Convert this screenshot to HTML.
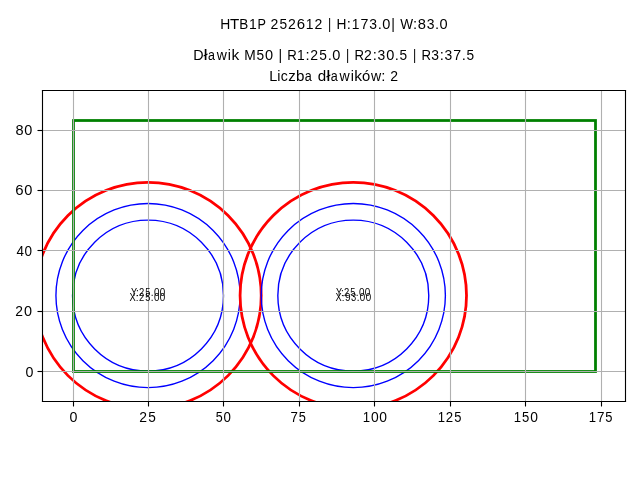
<!DOCTYPE html>
<html lang="pl">
<head>
<meta charset="utf-8">
<title>HTB1P 252612</title>
<style>
html,body{margin:0;padding:0;background:#fff;}
body{width:640px;height:480px;overflow:hidden;}
svg{display:block;will-change:transform;}
text{font-family:"Liberation Sans",sans-serif;fill:#000;}
.t10{font-size:14.7px;}
.t7{font-size:11.4px;}
.grid line{stroke:#b0b0b0;stroke-width:1.11;}
.tick line{stroke:#000;stroke-width:1.11;}
.spine line{stroke:#000;stroke-width:1.11;stroke-linecap:square;}
.blue{fill:none;stroke:#0000ff;stroke-width:1.39;}
.red{fill:none;stroke:#ff0000;stroke-width:2.78;}
.green{fill:none;stroke:#008000;stroke-width:2.78;stroke-linejoin:miter;}
</style>
</head>
<body>
<svg width="640" height="480" viewBox="0 0 640 480">
<rect x="0" y="0" width="640" height="480" fill="#ffffff"/>
<defs><clipPath id="ax"><rect x="42.35" y="90.28" width="582.65" height="310.95"/></clipPath></defs>
<g clip-path="url(#ax)">
<circle class="blue" cx="148.01" cy="295.57" r="75.47"/>
<circle class="blue" cx="148.01" cy="295.57" r="92.08"/>
<circle class="red" cx="148.01" cy="295.57" r="113.21"/>
<circle class="blue" cx="353.3" cy="295.57" r="75.47"/>
<circle class="blue" cx="353.3" cy="295.57" r="92.08"/>
<circle class="red" cx="353.3" cy="295.57" r="113.21"/>
<rect class="green" x="73.5" y="120.5" width="522" height="251"/>
<g class="grid">
<line x1="73.5" y1="90.28" x2="73.5" y2="401.23"/>
<line x1="148.5" y1="90.28" x2="148.5" y2="401.23"/>
<line x1="223.5" y1="90.28" x2="223.5" y2="401.23"/>
<line x1="299.5" y1="90.28" x2="299.5" y2="401.23"/>
<line x1="374.5" y1="90.28" x2="374.5" y2="401.23"/>
<line x1="450.5" y1="90.28" x2="450.5" y2="401.23"/>
<line x1="525.5" y1="90.28" x2="525.5" y2="401.23"/>
<line x1="601.5" y1="90.28" x2="601.5" y2="401.23"/>
<line x1="42.35" y1="371.5" x2="625" y2="371.5"/>
<line x1="42.35" y1="311.5" x2="625" y2="311.5"/>
<line x1="42.35" y1="250.5" x2="625" y2="250.5"/>
<line x1="42.35" y1="190.5" x2="625" y2="190.5"/>
<line x1="42.35" y1="130.5" x2="625" y2="130.5"/>
</g>
</g>
<g class="spine">
<line x1="42.5" y1="90.5" x2="42.5" y2="401.5"/>
<line x1="625.5" y1="90.5" x2="625.5" y2="401.5"/>
<line x1="42.5" y1="90.5" x2="625.5" y2="90.5"/>
<line x1="42.5" y1="401.5" x2="625.5" y2="401.5"/>
</g>
<g class="tick">
<line x1="73.5" y1="401.23" x2="73.5" y2="406.5"/>
<line x1="148.5" y1="401.23" x2="148.5" y2="406.5"/>
<line x1="223.5" y1="401.23" x2="223.5" y2="406.5"/>
<line x1="299.5" y1="401.23" x2="299.5" y2="406.5"/>
<line x1="374.5" y1="401.23" x2="374.5" y2="406.5"/>
<line x1="450.5" y1="401.23" x2="450.5" y2="406.5"/>
<line x1="525.5" y1="401.23" x2="525.5" y2="406.5"/>
<line x1="601.5" y1="401.23" x2="601.5" y2="406.5"/>
<line x1="37.49" y1="371.5" x2="42.35" y2="371.5"/>
<line x1="37.49" y1="311.5" x2="42.35" y2="311.5"/>
<line x1="37.49" y1="250.5" x2="42.35" y2="250.5"/>
<line x1="37.49" y1="190.5" x2="42.35" y2="190.5"/>
<line x1="37.49" y1="130.5" x2="42.35" y2="130.5"/>
</g>
<text class="t10" y="422"><tspan x="69.43" textLength="7.92" lengthAdjust="spacingAndGlyphs">0</tspan></text>
<text class="t10" y="422"><tspan x="139.3" textLength="7.76" lengthAdjust="spacingAndGlyphs">2</tspan><tspan x="148.25" textLength="7.59" lengthAdjust="spacingAndGlyphs">5</tspan></text>
<text class="t10" y="422"><tspan x="215.8" textLength="6.95" lengthAdjust="spacingAndGlyphs">5</tspan><tspan x="223.61" textLength="7.39" lengthAdjust="spacingAndGlyphs">0</tspan></text>
<text class="t10" y="422"><tspan x="290.4" textLength="7.38" lengthAdjust="spacingAndGlyphs">7</tspan><tspan x="298.7" textLength="7.11" lengthAdjust="spacingAndGlyphs">5</tspan></text>
<text class="t10" y="422"><tspan x="362.71" textLength="7.33" lengthAdjust="spacingAndGlyphs">1</tspan><tspan x="370.89" textLength="7.71" lengthAdjust="spacingAndGlyphs">0</tspan><tspan x="379.23" textLength="7.71" lengthAdjust="spacingAndGlyphs">0</tspan></text>
<text class="t10" y="422"><tspan x="437.72" textLength="7.28" lengthAdjust="spacingAndGlyphs">1</tspan><tspan x="445.84" textLength="7.36" lengthAdjust="spacingAndGlyphs">2</tspan><tspan x="454.33" textLength="7.2" lengthAdjust="spacingAndGlyphs">5</tspan></text>
<text class="t10" y="422"><tspan x="513.71" textLength="7.33" lengthAdjust="spacingAndGlyphs">1</tspan><tspan x="522.09" textLength="7.25" lengthAdjust="spacingAndGlyphs">5</tspan><tspan x="530.23" textLength="7.71" lengthAdjust="spacingAndGlyphs">0</tspan></text>
<text class="t10" y="422"><tspan x="588.72" textLength="7.28" lengthAdjust="spacingAndGlyphs">1</tspan><tspan x="596.92" textLength="7.48" lengthAdjust="spacingAndGlyphs">7</tspan><tspan x="605.33" textLength="7.2" lengthAdjust="spacingAndGlyphs">5</tspan></text>
<text class="t10" y="377"><tspan x="25.43" textLength="7.92" lengthAdjust="spacingAndGlyphs">0</tspan></text>
<text class="t10" y="316"><tspan x="15.31" textLength="7.72" lengthAdjust="spacingAndGlyphs">2</tspan><tspan x="24.01" textLength="8.03" lengthAdjust="spacingAndGlyphs">0</tspan></text>
<text class="t10" y="256"><tspan x="16.4" textLength="7.46" lengthAdjust="spacingAndGlyphs">4</tspan><tspan x="24.49" textLength="7.52" lengthAdjust="spacingAndGlyphs">0</tspan></text>
<text class="t10" y="195"><tspan x="15.25" textLength="8.34" lengthAdjust="spacingAndGlyphs">6</tspan><tspan x="24.13" textLength="8.12" lengthAdjust="spacingAndGlyphs">0</tspan></text>
<text class="t10" y="135"><tspan x="15.48" textLength="8.1" lengthAdjust="spacingAndGlyphs">8</tspan><tspan x="24.19" textLength="8.05" lengthAdjust="spacingAndGlyphs">0</tspan></text>
<text class="t7" y="296"><tspan x="131.07" textLength="6.11" lengthAdjust="spacingAndGlyphs">Y</tspan><tspan x="135.9" textLength="2.79" lengthAdjust="spacingAndGlyphs">:</tspan><tspan x="139.07" textLength="5.26" lengthAdjust="spacingAndGlyphs">2</tspan><tspan x="145.14" textLength="5.15" lengthAdjust="spacingAndGlyphs">5</tspan><tspan x="150.78" textLength="2.79" lengthAdjust="spacingAndGlyphs">.</tspan><tspan x="153.88" textLength="5.48" lengthAdjust="spacingAndGlyphs">0</tspan><tspan x="159.81" textLength="5.48" lengthAdjust="spacingAndGlyphs">0</tspan></text>
<text class="t7" y="301"><tspan x="129.38" textLength="6.22" lengthAdjust="spacingAndGlyphs">X</tspan><tspan x="135.86" textLength="2.8" lengthAdjust="spacingAndGlyphs">:</tspan><tspan x="139.04" textLength="5.27" lengthAdjust="spacingAndGlyphs">2</tspan><tspan x="145.13" textLength="5.16" lengthAdjust="spacingAndGlyphs">5</tspan><tspan x="150.78" textLength="2.8" lengthAdjust="spacingAndGlyphs">.</tspan><tspan x="153.88" textLength="5.49" lengthAdjust="spacingAndGlyphs">0</tspan><tspan x="159.82" textLength="5.49" lengthAdjust="spacingAndGlyphs">0</tspan></text>
<text class="t7" y="296"><tspan x="336.07" textLength="6.11" lengthAdjust="spacingAndGlyphs">Y</tspan><tspan x="340.9" textLength="2.79" lengthAdjust="spacingAndGlyphs">:</tspan><tspan x="344.07" textLength="5.26" lengthAdjust="spacingAndGlyphs">2</tspan><tspan x="350.14" textLength="5.15" lengthAdjust="spacingAndGlyphs">5</tspan><tspan x="355.78" textLength="2.79" lengthAdjust="spacingAndGlyphs">.</tspan><tspan x="358.88" textLength="5.48" lengthAdjust="spacingAndGlyphs">0</tspan><tspan x="364.81" textLength="5.48" lengthAdjust="spacingAndGlyphs">0</tspan></text>
<text class="t7" y="301"><tspan x="335.38" textLength="6.18" lengthAdjust="spacingAndGlyphs">X</tspan><tspan x="341.83" textLength="2.78" lengthAdjust="spacingAndGlyphs">:</tspan><tspan x="344.89" textLength="5.6" lengthAdjust="spacingAndGlyphs">9</tspan><tspan x="351.03" textLength="5.21" lengthAdjust="spacingAndGlyphs">3</tspan><tspan x="356.66" textLength="2.78" lengthAdjust="spacingAndGlyphs">.</tspan><tspan x="359.75" textLength="5.45" lengthAdjust="spacingAndGlyphs">0</tspan><tspan x="365.65" textLength="5.45" lengthAdjust="spacingAndGlyphs">0</tspan></text>
<text class="t10" y="29"><tspan x="220.23" textLength="10.02" lengthAdjust="spacingAndGlyphs">H</tspan><tspan x="230.07" textLength="9.26" lengthAdjust="spacingAndGlyphs">T</tspan><tspan x="239.17" textLength="8.99" lengthAdjust="spacingAndGlyphs">B</tspan><tspan x="248.92" textLength="7.76" lengthAdjust="spacingAndGlyphs">1</tspan><tspan x="257.61" textLength="8.21" lengthAdjust="spacingAndGlyphs">P</tspan> <tspan x="270.42" textLength="7.81" lengthAdjust="spacingAndGlyphs">2</tspan><tspan x="279.43" textLength="7.65" lengthAdjust="spacingAndGlyphs">5</tspan><tspan x="288.01" textLength="7.81" lengthAdjust="spacingAndGlyphs">2</tspan><tspan x="296.72" textLength="8.35" lengthAdjust="spacingAndGlyphs">6</tspan><tspan x="305.77" textLength="7.73" lengthAdjust="spacingAndGlyphs">1</tspan><tspan x="314.39" textLength="7.81" lengthAdjust="spacingAndGlyphs">2</tspan> <tspan x="327.88" textLength="3.25" lengthAdjust="spacingAndGlyphs">|</tspan> <tspan x="336.48" textLength="9.95" lengthAdjust="spacingAndGlyphs">H</tspan><tspan x="346.88" textLength="4.13" lengthAdjust="spacingAndGlyphs">:</tspan><tspan x="351.76" textLength="7.71" lengthAdjust="spacingAndGlyphs">1</tspan><tspan x="360.44" textLength="7.92" lengthAdjust="spacingAndGlyphs">7</tspan><tspan x="369.32" textLength="7.74" lengthAdjust="spacingAndGlyphs">3</tspan><tspan x="377.69" textLength="4.13" lengthAdjust="spacingAndGlyphs">.</tspan><tspan x="382.27" textLength="8.1" lengthAdjust="spacingAndGlyphs">0</tspan><tspan x="391.2" textLength="3.69" lengthAdjust="spacingAndGlyphs">|</tspan> <tspan x="400.27" textLength="12.84" lengthAdjust="spacingAndGlyphs">W</tspan><tspan x="412.96" textLength="4.13" lengthAdjust="spacingAndGlyphs">:</tspan><tspan x="417.67" textLength="8.16" lengthAdjust="spacingAndGlyphs">8</tspan><tspan x="426.65" textLength="7.75" lengthAdjust="spacingAndGlyphs">3</tspan><tspan x="435.02" textLength="4.13" lengthAdjust="spacingAndGlyphs">.</tspan><tspan x="439.61" textLength="8.11" lengthAdjust="spacingAndGlyphs">0</tspan></text>
<text class="t10" y="60"><tspan x="193.19" textLength="10.34" lengthAdjust="spacingAndGlyphs">D</tspan><tspan x="203.57" textLength="4.19" lengthAdjust="spacingAndGlyphs">ł</tspan><tspan x="207.92" textLength="6.95" lengthAdjust="spacingAndGlyphs">a</tspan><tspan x="216.69" textLength="10.1" lengthAdjust="spacingAndGlyphs">w</tspan><tspan x="227.78" textLength="3.16" lengthAdjust="spacingAndGlyphs">i</tspan><tspan x="231.47" textLength="7.76" lengthAdjust="spacingAndGlyphs">k</tspan> <tspan x="244.36" textLength="11.47" lengthAdjust="spacingAndGlyphs">M</tspan><tspan x="256.56" textLength="7.62" lengthAdjust="spacingAndGlyphs">5</tspan><tspan x="265.11" textLength="8.1" lengthAdjust="spacingAndGlyphs">0</tspan> <tspan x="278.48" textLength="3.67" lengthAdjust="spacingAndGlyphs">|</tspan> <tspan x="287.28" textLength="9.54" lengthAdjust="spacingAndGlyphs">R</tspan><tspan x="297.08" textLength="7.71" lengthAdjust="spacingAndGlyphs">1</tspan><tspan x="305.62" textLength="4.13" lengthAdjust="spacingAndGlyphs">:</tspan><tspan x="310.32" textLength="7.79" lengthAdjust="spacingAndGlyphs">2</tspan><tspan x="319.31" textLength="7.63" lengthAdjust="spacingAndGlyphs">5</tspan><tspan x="327.67" textLength="4.13" lengthAdjust="spacingAndGlyphs">.</tspan><tspan x="332.26" textLength="8.11" lengthAdjust="spacingAndGlyphs">0</tspan> <tspan x="345.88" textLength="3.25" lengthAdjust="spacingAndGlyphs">|</tspan> <tspan x="354.41" textLength="9.51" lengthAdjust="spacingAndGlyphs">R</tspan><tspan x="364.01" textLength="7.78" lengthAdjust="spacingAndGlyphs">2</tspan><tspan x="372.71" textLength="4.12" lengthAdjust="spacingAndGlyphs">:</tspan><tspan x="377.61" textLength="7.73" lengthAdjust="spacingAndGlyphs">3</tspan><tspan x="386.17" textLength="8.09" lengthAdjust="spacingAndGlyphs">0</tspan><tspan x="394.71" textLength="4.12" lengthAdjust="spacingAndGlyphs">.</tspan><tspan x="399.5" textLength="7.61" lengthAdjust="spacingAndGlyphs">5</tspan> <tspan x="412.88" textLength="3.25" lengthAdjust="spacingAndGlyphs">|</tspan> <tspan x="421.41" textLength="9.51" lengthAdjust="spacingAndGlyphs">R</tspan><tspan x="431.23" textLength="7.73" lengthAdjust="spacingAndGlyphs">3</tspan><tspan x="439.71" textLength="4.12" lengthAdjust="spacingAndGlyphs">:</tspan><tspan x="444.61" textLength="7.73" lengthAdjust="spacingAndGlyphs">3</tspan><tspan x="453.24" textLength="7.9" lengthAdjust="spacingAndGlyphs">7</tspan><tspan x="461.71" textLength="4.12" lengthAdjust="spacingAndGlyphs">.</tspan><tspan x="466.5" textLength="7.61" lengthAdjust="spacingAndGlyphs">5</tspan></text>
<text class="t10" y="81"><tspan x="269.18" textLength="8.03" lengthAdjust="spacingAndGlyphs">L</tspan><tspan x="277.14" textLength="3.19" lengthAdjust="spacingAndGlyphs">i</tspan><tspan x="280.83" textLength="7.02" lengthAdjust="spacingAndGlyphs">c</tspan><tspan x="288.33" textLength="7.49" lengthAdjust="spacingAndGlyphs">z</tspan><tspan x="295.93" textLength="8.45" lengthAdjust="spacingAndGlyphs">b</tspan><tspan x="304.82" textLength="7" lengthAdjust="spacingAndGlyphs">a</tspan> <tspan x="317.66" textLength="8.45" lengthAdjust="spacingAndGlyphs">d</tspan><tspan x="326.29" textLength="4.22" lengthAdjust="spacingAndGlyphs">ł</tspan><tspan x="330.66" textLength="7" lengthAdjust="spacingAndGlyphs">a</tspan><tspan x="339.5" textLength="10.18" lengthAdjust="spacingAndGlyphs">w</tspan><tspan x="350.67" textLength="3.19" lengthAdjust="spacingAndGlyphs">i</tspan><tspan x="354.39" textLength="7.82" lengthAdjust="spacingAndGlyphs">k</tspan><tspan x="361.9" textLength="8.25" lengthAdjust="spacingAndGlyphs">ó</tspan><tspan x="370.89" textLength="10.18" lengthAdjust="spacingAndGlyphs">w</tspan><tspan x="381.19" textLength="4.18" lengthAdjust="spacingAndGlyphs">:</tspan> <tspan x="390.3" textLength="7.8" lengthAdjust="spacingAndGlyphs">2</tspan></text>
</svg>
</body>
</html>
